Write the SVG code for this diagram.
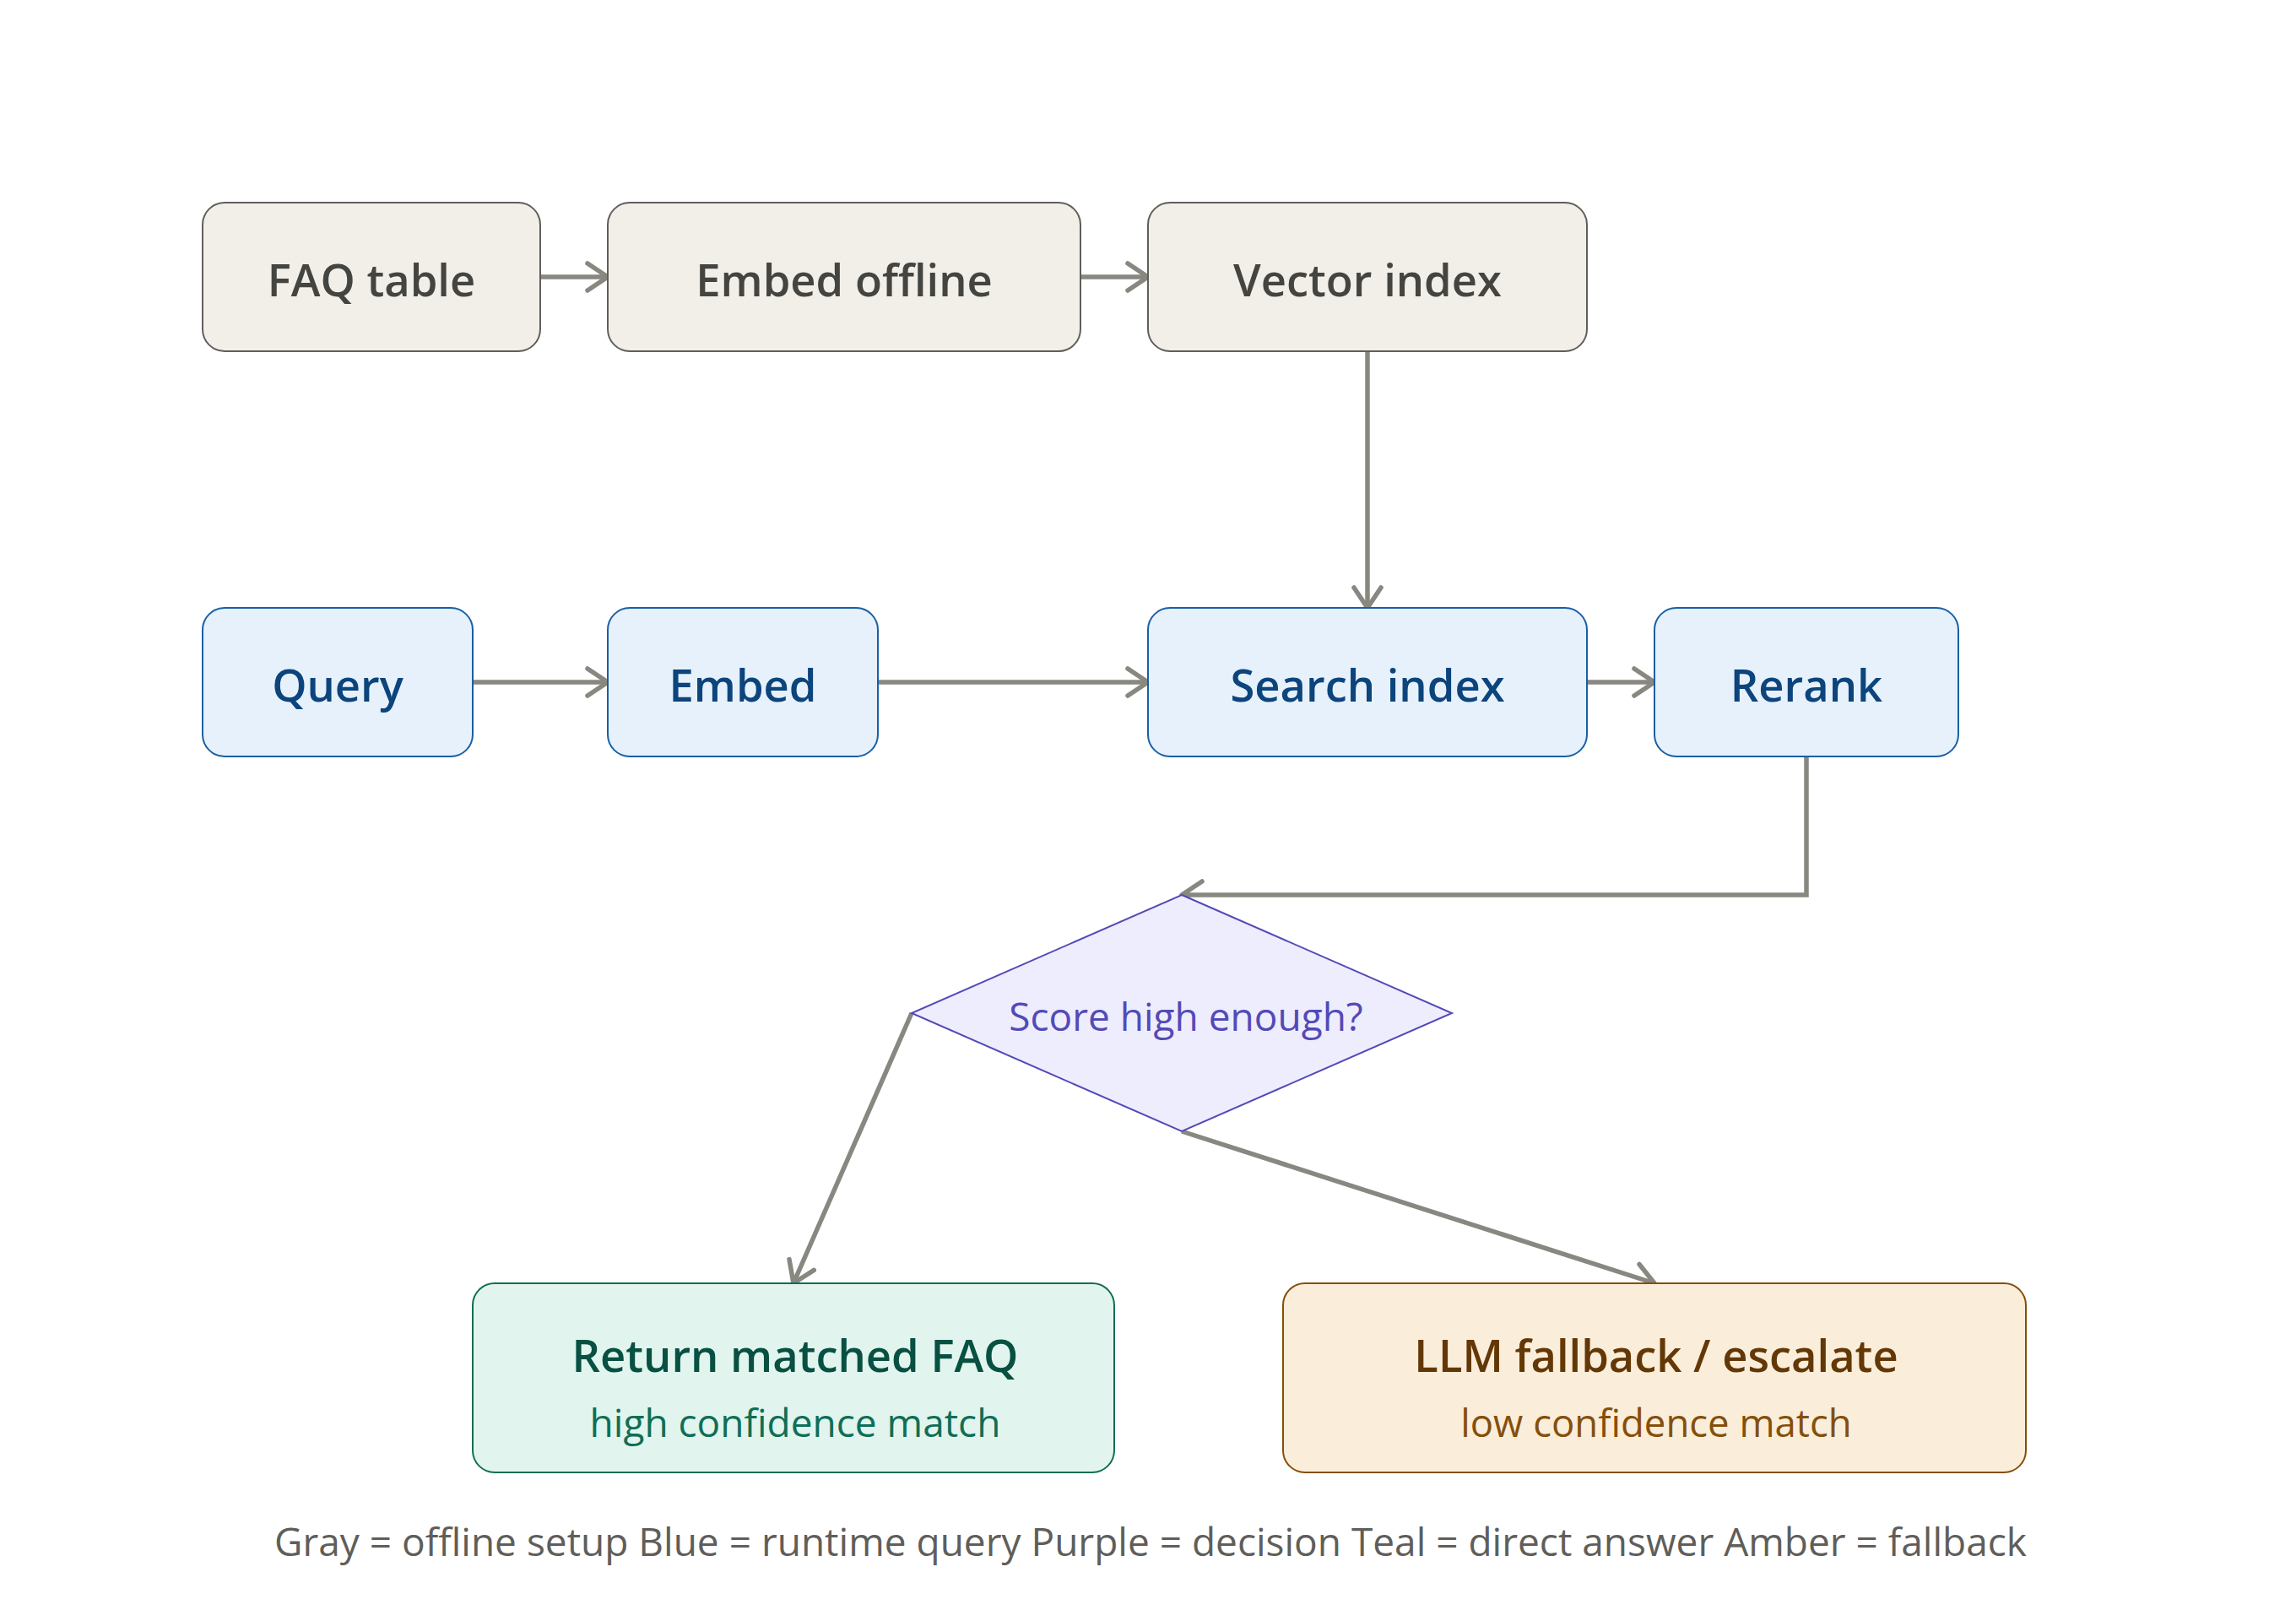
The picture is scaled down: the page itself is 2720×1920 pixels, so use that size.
<svg xmlns="http://www.w3.org/2000/svg" width="2720" height="1920" viewBox="0 0 2720 1920">
  <defs>
    <marker id="arrow" markerUnits="userSpaceOnUse" markerWidth="60" markerHeight="60" viewBox="-40 -30 60 60" refX="0" refY="0" orient="auto">
      <path d="M-24,-16 L0,0 L-24,16" fill="none" stroke="#888780" stroke-width="5.5" stroke-linecap="round" stroke-linejoin="round"/>
    </marker>
  </defs>
  <style>
    text { font-family: "Open Sans", "Noto Sans", "Liberation Sans", sans-serif; text-anchor: middle; }
    .conn { fill: none; stroke: #888780; stroke-width: 5.5; marker-end: url(#arrow); }
    .gray rect { fill: #F1EFE8; stroke: #5F5E5A; stroke-width: 2; }
    .gray text { fill: #444441; font-size: 52.5px; font-weight: 600; }
    .blue rect { fill: #E6F1FB; stroke: #185FA5; stroke-width: 2; }
    .blue text { fill: #0C447C; font-size: 52.5px; font-weight: 600; }
    .purple polygon { fill: #EEEDFE; stroke: #534AB7; stroke-width: 2; }
    .purple text { fill: #534AB7; font-size: 46px; font-weight: 400; }
    .teal rect { fill: #E1F5EE; stroke: #0F6E56; stroke-width: 2; }
    .teal .t { fill: #085041; font-size: 52.5px; font-weight: 600; }
    .teal .s { fill: #0F6E56; font-size: 46px; font-weight: 400; }
    .amber rect { fill: #FAEEDA; stroke: #854F0B; stroke-width: 2; }
    .amber .t { fill: #633806; font-size: 52.5px; font-weight: 600; }
    .amber .s { fill: #854F0B; font-size: 45.5px; font-weight: 400; }
    .legend { fill: #5F5E5A; font-size: 46px; font-weight: 400; }
  </style>
  <rect width="2720" height="1920" fill="#FFFFFF"/>
  <g id="connectors">
    <path class="conn" d="M640,328 L720,328"/>
    <path class="conn" d="M1280,328 L1360,328"/>
    <path class="conn" d="M1620,416 L1620,720"/>
    <path class="conn" d="M560,808 L720,808"/>
    <path class="conn" d="M1040,808 L1360,808"/>
    <path class="conn" d="M1880,808 L1960,808"/>
    <path class="conn" d="M2140,896 L2140,1060 L1400,1060"/>
    <path class="conn" d="M1080,1200 L940,1520"/>
    <path class="conn" d="M1400,1340 L1960,1520"/>
  </g>
  <g id="faq-table" class="gray">
    <rect x="240" y="240" width="400" height="176" rx="26"/>
    <text x="440" y="351">FAQ table</text>
  </g>
  <g id="embed-offline" class="gray">
    <rect x="720" y="240" width="560" height="176" rx="26"/>
    <text x="1000" y="351">Embed offline</text>
  </g>
  <g id="vector-index" class="gray">
    <rect x="1360" y="240" width="520" height="176" rx="26"/>
    <text x="1620" y="351">Vector index</text>
  </g>
  <g id="query" class="blue">
    <rect x="240" y="720" width="320" height="176" rx="26"/>
    <text x="400" y="831">Query</text>
  </g>
  <g id="embed" class="blue">
    <rect x="720" y="720" width="320" height="176" rx="26"/>
    <text x="880" y="831">Embed</text>
  </g>
  <g id="search-index" class="blue">
    <rect x="1360" y="720" width="520" height="176" rx="26"/>
    <text x="1620" y="831">Search index</text>
  </g>
  <g id="rerank" class="blue">
    <rect x="1960" y="720" width="360" height="176" rx="26"/>
    <text x="2140" y="831">Rerank</text>
  </g>
  <g id="score-decision" class="purple">
    <polygon points="1400,1060 1720,1200 1400,1340 1080,1200"/>
    <text x="1405" y="1221">Score high enough?</text>
  </g>
  <g id="return-faq" class="teal">
    <rect x="560" y="1520" width="760" height="224" rx="26"/>
    <text class="t" x="942" y="1625">Return matched FAQ</text>
    <text class="s" x="942" y="1702">high confidence match</text>
  </g>
  <g id="llm-fallback" class="amber">
    <rect x="1520" y="1520" width="880" height="224" rx="26"/>
    <text class="t" x="1962" y="1625">LLM fallback / escalate</text>
    <text class="s" x="1962" y="1702">low confidence match</text>
  </g>
  <text class="legend" x="1363" y="1843">Gray = offline setup Blue = runtime query Purple = decision Teal = direct answer Amber = fallback</text>
</svg>
